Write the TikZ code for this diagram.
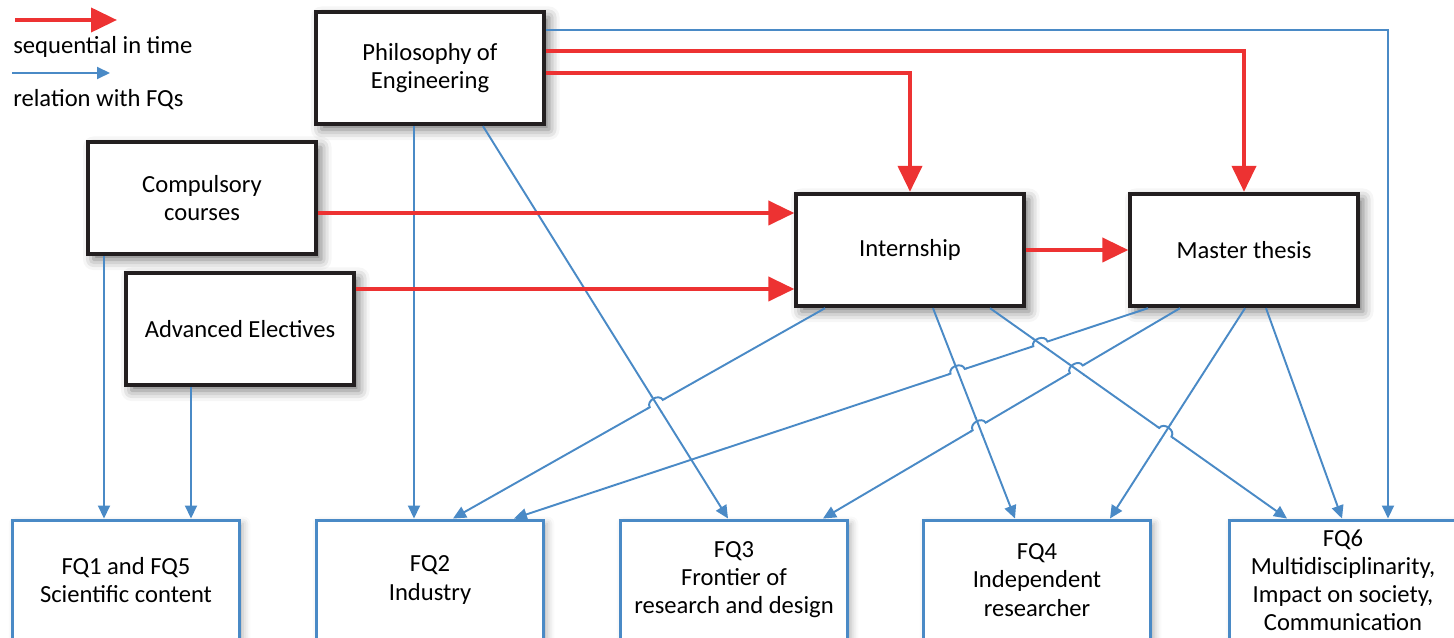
\documentclass[tikz,border=0pt]{standalone}
\usepackage{fontspec}
\setmainfont{Carlito}
\usepackage{tikz}
\usetikzlibrary{arrows.meta,calc,intersections,shadows.blur}
\definecolor{seqred}{RGB}{237,50,50}
\definecolor{relblue}{RGB}{74,138,198}
\definecolor{boxline}{RGB}{35,31,32}
\tikzstyle{phase}=[
  draw=boxline, line width=2.2pt, fill=white, align=center,
  minimum width=4.55cm, minimum height=2.25cm, font=\fontsize{14}{16}\selectfont,
  blur shadow={shadow xshift=3pt, shadow yshift=-3pt, shadow blur radius=6pt, shadow opacity=55}
]
\tikzstyle{fq}=[
  draw=relblue, line width=1.7pt, fill=white, align=center,
  minimum width=4.55cm, minimum height=2.4cm, font=\fontsize{14}{16}\selectfont,
  blur shadow={shadow xshift=2pt, shadow yshift=-2pt, shadow blur radius=4pt, shadow opacity=30}
]
\tikzstyle{legend}=[
  anchor=west, inner sep=0pt, font=\fontsize{14}{16}\selectfont
]
\tikzstyle{seq}=[
  draw=seqred, line width=2.3pt, -{Triangle[length=0.52cm,width=0.48cm]}
]
\tikzstyle{rel}=[
  draw=relblue, line width=1.1pt, -{Triangle[length=0.26cm,width=0.24cm]}
]
% line jump: #1 crossing, #2 point on the jumping line to its left, #3 point on the crossed line
\newcommand{\crossjump}[3]{
  \fill [white] (#1) circle (9);
  \draw [relblue, line width=1.1pt] ($(#1)!0.2cm!(#3)$) -- ($(#1)!-0.2cm!(#3)$);
  \draw [relblue, line width=1.1pt] ($(#1)!0.2cm!(#2)$) -- ($(#1)!0.15cm!(#2)$)
    to [bend left=90, looseness=1.3] ($(#1)!-0.15cm!(#2)$) -- ($(#1)!-0.2cm!(#2)$);
}

\begin{document}
\begin{tikzpicture}[x=0.02cm,y=-0.02cm]
  \useasboundingbox (0,0) rectangle (1454,638);
  % legend
  \coordinate (ls1) at (15,20);
  \coordinate (ls2) at (117,20);
  \coordinate (lr1) at (12,73);
  \coordinate (lr2) at (110,73);
  \draw [seq] (ls1) -- (ls2);
  \draw [rel] (lr1) -- (lr2);
  \node (lseq) [legend] at (13,47) {sequential in time};
  \node (lrel) [legend] at (13,100) {relation with FQs};
  % course components
  \node (phil) [phase] at (430,68) {Philosophy of\\Engineering};
  \node (comp) [phase] at (202,198) {Compulsory\\courses};
  \node (adv) [phase] at (240,329) {Advanced Electives};
  \node (intern) [phase] at (910,250) {Internship};
  \node (master) [phase] at (1244,250) {Master thesis};
  % final qualifications
  \node (fq1) [fq] at (126,580) {FQ1 and FQ5\\Scientific content};
  \node (fq2) [fq] at (430,580) {FQ2\\Industry};
  \node (fq3) [fq] at (734,580) {FQ3\\Frontier of\\research and design};
  \node (fq4) [fq] at (1037,580) {FQ4\\Independent\\researcher};
  \node (fq6) [fq] at (1343,580) {FQ6\\Multidisciplinarity,\\Impact on society,\\Communication};
  % ends of the crossing relations
  \coordinate (p3s) at ($(phil.south)+(53,0)$);
  \coordinate (p3e) at ($(fq3.north)+(-6,0)$);
  \coordinate (i2s) at ($(intern.south)+(-85,0)$);
  \coordinate (i2e) at ($(fq2.north)+(23,0)$);
  \coordinate (i4s) at ($(intern.south)+(23,0)$);
  \coordinate (i4e) at ($(fq4.north)+(-22,0)$);
  \coordinate (i6s) at ($(intern.south)+(80,0)$);
  \coordinate (i6e) at ($(fq6.north)+(-56,0)$);
  \coordinate (m2s) at ($(master.south)+(-96,0)$);
  \coordinate (m2e) at ($(fq2.north)+(84,0)$);
  \coordinate (m3s) at ($(master.south)+(-64,0)$);
  \coordinate (m3e) at ($(fq3.north)+(89,0)$);
  \coordinate (m4s) at ($(master.south)+(1,0)$);
  \coordinate (m4e) at ($(fq4.north)+(73,0)$);
  % relations with FQs
  \draw [rel] ($(phil.east)+(0,-38)$) -| ($(fq6.north)+(45,0)$);
  \draw [rel] ($(phil.south)+(-16,0)$) -- ($(fq2.north)+(-16,0)$);
  \draw [rel, name path=p3] (p3s) -- (p3e);
  \draw [rel] ($(comp.south)+(-98,0)$) -- ($(fq1.north)+(-22,0)$);
  \draw [rel] ($(adv.south)+(-49,0)$) -- ($(fq1.north)+(65,0)$);
  \draw [rel, name path=i2] (i2s) -- (i2e);
  \draw [rel, name path=i4] (i4s) -- (i4e);
  \draw [rel, name path=i6] (i6s) -- (i6e);
  \draw [rel, name path=m2] (m2s) -- (m2e);
  \draw [rel, name path=m3] (m3s) -- (m3e);
  \draw [rel, name path=m4] (m4s) -- (m4e);
  \draw [rel] ($(master.south)+(22,0)$) -- ($(fq6.north)+(-1,0)$);
  % line jumps
  \path [name intersections={of=i2 and p3, by=x1}];
  \path [name intersections={of=m2 and i4, by=x2}];
  \path [name intersections={of=m2 and i6, by=x3}];
  \path [name intersections={of=m3 and i4, by=x4}];
  \path [name intersections={of=m3 and i6, by=x5}];
  \path [name intersections={of=i6 and m4, by=x6}];
  \crossjump{x1}{i2e}{p3s}
  \crossjump{x2}{m2e}{i4s}
  \crossjump{x3}{m2e}{i6s}
  \crossjump{x4}{m3e}{i4s}
  \crossjump{x5}{m3e}{i6s}
  \crossjump{x6}{i6s}{m4s}
  % sequence in time
  \draw [seq] ($(phil.east)+(0,-17)$) -| (master.north);
  \draw [seq] ($(phil.east)+(0,5)$) -| (intern.north);
  \draw [seq] ($(comp.east)+(0,15)$) -- ($(intern.west)+(0,-37)$);
  \draw [seq] ($(adv.east)+(0,-40)$) -- ($(intern.west)+(0,39)$);
  \draw [seq] (intern.east) -- (master.west);
\end{tikzpicture}
\end{document}
